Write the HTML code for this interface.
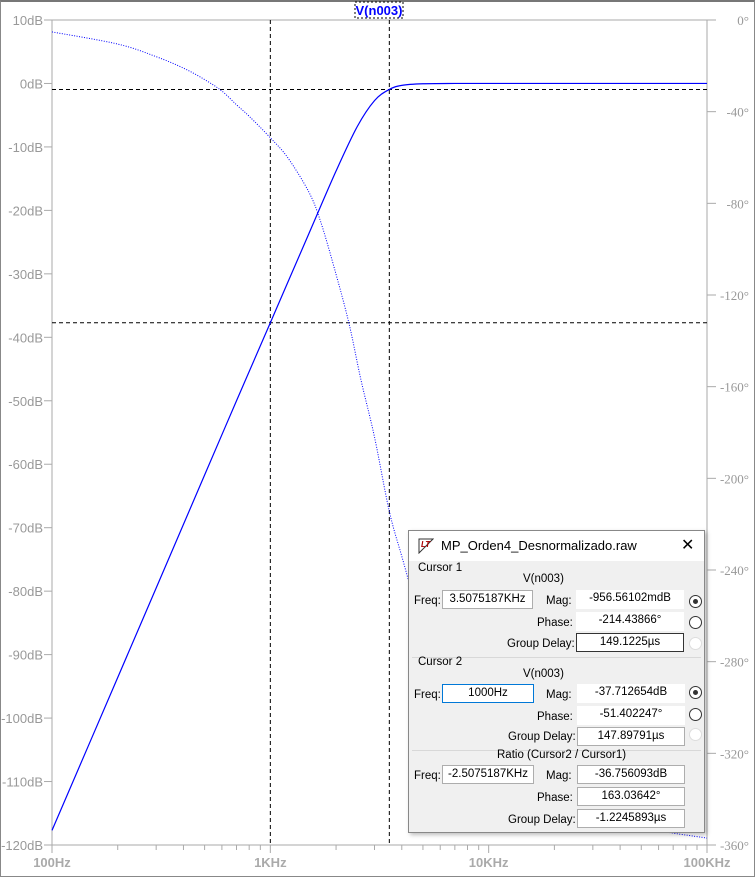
<!DOCTYPE html>
<html><head><meta charset="utf-8"><style>
body{margin:0;width:755px;height:876px;overflow:hidden;background:#fff;font-family:"Liberation Sans",sans-serif;position:relative}
#frame{position:absolute;left:0;top:0;width:753px;height:874px;border:1px solid #888;border-top:2px solid #777}
#dlg{position:absolute;left:408px;top:530px;width:295px;height:301px;background:#f0f0f0;border:1px solid #888;box-shadow:2px 2px 4px rgba(0,0,0,.25);font-size:11.5px;color:#000}
#dlg .tb{position:absolute;left:0;top:0;width:295px;height:30px;background:#fff}
.a{position:absolute;white-space:nowrap}
.box{position:absolute;height:19px;background:#fff;border:1px solid #adadad;box-sizing:border-box;text-align:center;line-height:17px}
.rad{position:absolute;width:11px;height:11px;border:1px solid #333;border-radius:50%;background:#fff}
.sep{position:absolute;left:3px;width:289px;border-top:1px solid #d8d8d8}
</style></head><body>
<div id="frame"></div>
<svg id="chart" width="755" height="876" style="position:absolute;left:0;top:0"></svg>
<div id="dlg">
 <div class="tb">
  <svg class="a" style="left:9px;top:7px" width="16" height="16"><path d="M1 1 L15 1 L1 15 Z" fill="none" stroke="#333"/><text x="3" y="9" font-size="8" font-weight="bold" fill="#a00" font-style="italic">LT</text></svg>
  <div class="a" style="left:32px;top:7px;font-size:13px">MP_Orden4_Desnormalizado.raw</div>
  <div class="a" style="left:272px;top:4px;font-size:16px">✕</div>
 </div>
 <div class="a" style="left:9px;top:31px">Cursor 1</div>
 <div class="a" style="left:114px;top:42px">V(n003)</div>
 <div class="a" style="left:5px;top:64px">Freq:</div>
 <div class="box" style="left:33px;top:59px;width:91px">3.5075187KHz</div>
 <div class="a" style="left:137px;top:64px">Mag:</div>
 <div class="box" style="left:167px;top:59px;width:108px;border:none">-956.56102mdB</div>
 <div class="rad" style="left:280px;top:64px"><div style="width:5px;height:5px;background:#333;border-radius:50%;margin:3px"></div></div>
 <div class="a" style="left:128px;top:86px">Phase:</div>
 <div class="box" style="left:167px;top:81px;width:108px;border:none">-214.43866°</div>
 <div class="rad" style="left:280px;top:85px"></div>
 <div class="a" style="left:98px;top:107px">Group Delay:</div>
 <div class="box" style="left:167px;top:102px;width:108px;border-color:#333">149.1225µs</div>
 <div class="rad" style="left:280px;top:106px;border-color:#ddd"></div>
 <div class="sep" style="top:126px"></div>
 <div class="a" style="left:9px;top:125px">Cursor 2</div>
 <div class="a" style="left:114px;top:137px">V(n003)</div>
 <div class="a" style="left:5px;top:158px">Freq:</div>
 <div class="box" style="left:33px;top:153px;width:92px;border-color:#0078d7">1000Hz</div>
 <div class="a" style="left:137px;top:158px">Mag:</div>
 <div class="box" style="left:168px;top:153px;width:108px;border:none">-37.712654dB</div>
 <div class="rad" style="left:280px;top:155px"><div style="width:5px;height:5px;background:#333;border-radius:50%;margin:3px"></div></div>
 <div class="a" style="left:128px;top:180px">Phase:</div>
 <div class="box" style="left:168px;top:175px;width:108px;border:none">-51.402247°</div>
 <div class="rad" style="left:280px;top:177px"></div>
 <div class="a" style="left:99px;top:200px">Group Delay:</div>
 <div class="box" style="left:168px;top:196px;width:108px">147.89791µs</div>
 <div class="rad" style="left:280px;top:197px;border-color:#ddd"></div>
 <div class="sep" style="top:219px"></div>
 <div class="a" style="left:88px;top:218px">Ratio (Cursor2 / Cursor1)</div>
 <div class="a" style="left:5px;top:239px">Freq:</div>
 <div class="box" style="left:33px;top:234px;width:92px">-2.5075187KHz</div>
 <div class="a" style="left:137px;top:239px">Mag:</div>
 <div class="box" style="left:168px;top:234px;width:108px">-36.756093dB</div>
 <div class="a" style="left:128px;top:261px">Phase:</div>
 <div class="box" style="left:168px;top:256px;width:108px">163.03642°</div>
 <div class="a" style="left:99px;top:283px">Group Delay:</div>
 <div class="box" style="left:168px;top:278px;width:108px">-1.2245893µs</div>
</div>
<script>
const freqs=[100,200,300,500,700,1000,1500,2000,2500,3000,3500,4000,5000,7000,10000,20000,50000,100000];
const magDb=[-117.7,-93.6,-79.5,-61.7,-50,-37.7,-23.7,-13.8,-6.8,-2.7,-0.96,-0.3,-0.05,0,0,0,0,0];
const phaseFreqs=[100,200,300,400,500,600,700,800,1000,1200,1500,1700,2000,2300,2600,3000,3500,4000,5000,7000,10000,20000,50000,100000];
const phaseDeg=[-5.2,-10.5,-16,-21,-26,-31,-37,-42,-51.4,-60,-75,-88,-111,-133,-157,-182,-214,-234,-265,-298,-320,-340,-352,-357];
const dbTicks=[10,0,-10,-20,-30,-40,-50,-60,-70,-80,-90,-100,-110,-120];
const degTicks=[0,-40,-80,-120,-160,-200,-240,-280,-320,-360];
const xTicks=[[100,"100Hz"],[1000,"1KHz"],[10000,"10KHz"],[100000,"100KHz"]];
const cursorFreqs=[1000,3507.5187];
const cursorMags=[-37.712654,-0.95656];

const L=52,R=707,T=20,B=845;
const x=f=>L+(R-L)*(Math.log10(f)-2)/3;
const y=d=>T+(B-T)*(10-d)/130;
const yp=p=>T+(B-T)*(-p)/360;
const svg=document.getElementById('chart');
const NS='http://www.w3.org/2000/svg';
function mk(t,a){const e=document.createElementNS(NS,t);for(const k in a)e.setAttribute(k,a[k]);svg.appendChild(e);return e;}
let e=mk('path',{d:`M${L} ${T}H${R}V${B}H${L}Z`,fill:'none',stroke:'#aaa'});


dbTicks.forEach(d=>{mk('line',{x1:44,x2:L,y1:y(d),y2:y(d),stroke:'#aaa'});
 const t=mk('text',{x:43,y:y(d)+5,'text-anchor':'end','font-size':13,fill:'#999'});t.textContent=d+'dB';
 
 });
degTicks.forEach(p=>{mk('line',{x1:R,x2:716,y1:yp(p),y2:yp(p),stroke:'#aaa'});
 const t=mk('text',{x:749,y:yp(p)+5,'text-anchor':'end','font-size':13,fill:'#999','font-family':'Liberation Serif, serif'});t.textContent=p+'°';
 
 });
for(let dec=100;dec<100000;dec*=10)for(let m=1;m<10;m++){const xx=x(dec*m);mk('line',{x1:xx,x2:xx,y1:B,y2:B+(m==1?8:5),stroke:'#aaa'});}
mk('line',{x1:R,x2:R,y1:B,y2:B+8,stroke:'#aaa'});
xTicks.forEach(([f,s])=>{const t=mk('text',{x:x(f),y:867,'text-anchor':'middle','font-size':13,'font-weight':'bold',fill:'#aaa'});t.textContent=s;
 
 });
cursorFreqs.forEach(f=>{e=mk('line',{x1:x(f),x2:x(f),y1:T,y2:B,stroke:'#000','stroke-dasharray':'4,3'});
 
 });
cursorMags.forEach(m=>{e=mk('line',{x1:L,x2:R,y1:y(m),y2:y(m),stroke:'#000','stroke-dasharray':'4,3'});
 
 });
function smooth(fs,ys){const pts=fs.map((f,i)=>[x(f),ys[i]]);
 let d='M'+pts[0][0]+' '+pts[0][1];
 for(let i=0;i<pts.length-1;i++){const p0=pts[i-1]||pts[i],p1=pts[i],p2=pts[i+1],p3=pts[i+2]||p2;
  d+=` C${p1[0]+(p2[0]-p0[0])/6} ${p1[1]+(p2[1]-p0[1])/6} ${p2[0]-(p3[0]-p1[0])/6} ${p2[1]-(p3[1]-p1[1])/6} ${p2[0]} ${p2[1]}`;}
 return d;}
e=mk('path',{d:smooth(freqs,magDb.map(y)),fill:'none',stroke:'#00f','stroke-width':1.2});


e=mk('path',{d:smooth(phaseFreqs,phaseDeg.map(yp)),fill:'none',stroke:'#00f','stroke-width':1,'stroke-dasharray':'1,1.5'});


e=mk('rect',{x:355,y:2,width:48,height:16,fill:'#fff',stroke:'#000','stroke-dasharray':'2,2'});


e=mk('text',{x:379,y:15,'text-anchor':'middle','font-size':13,'font-weight':'bold',fill:'#00f'});e.textContent='V(n003)';


</script>
</body></html>
